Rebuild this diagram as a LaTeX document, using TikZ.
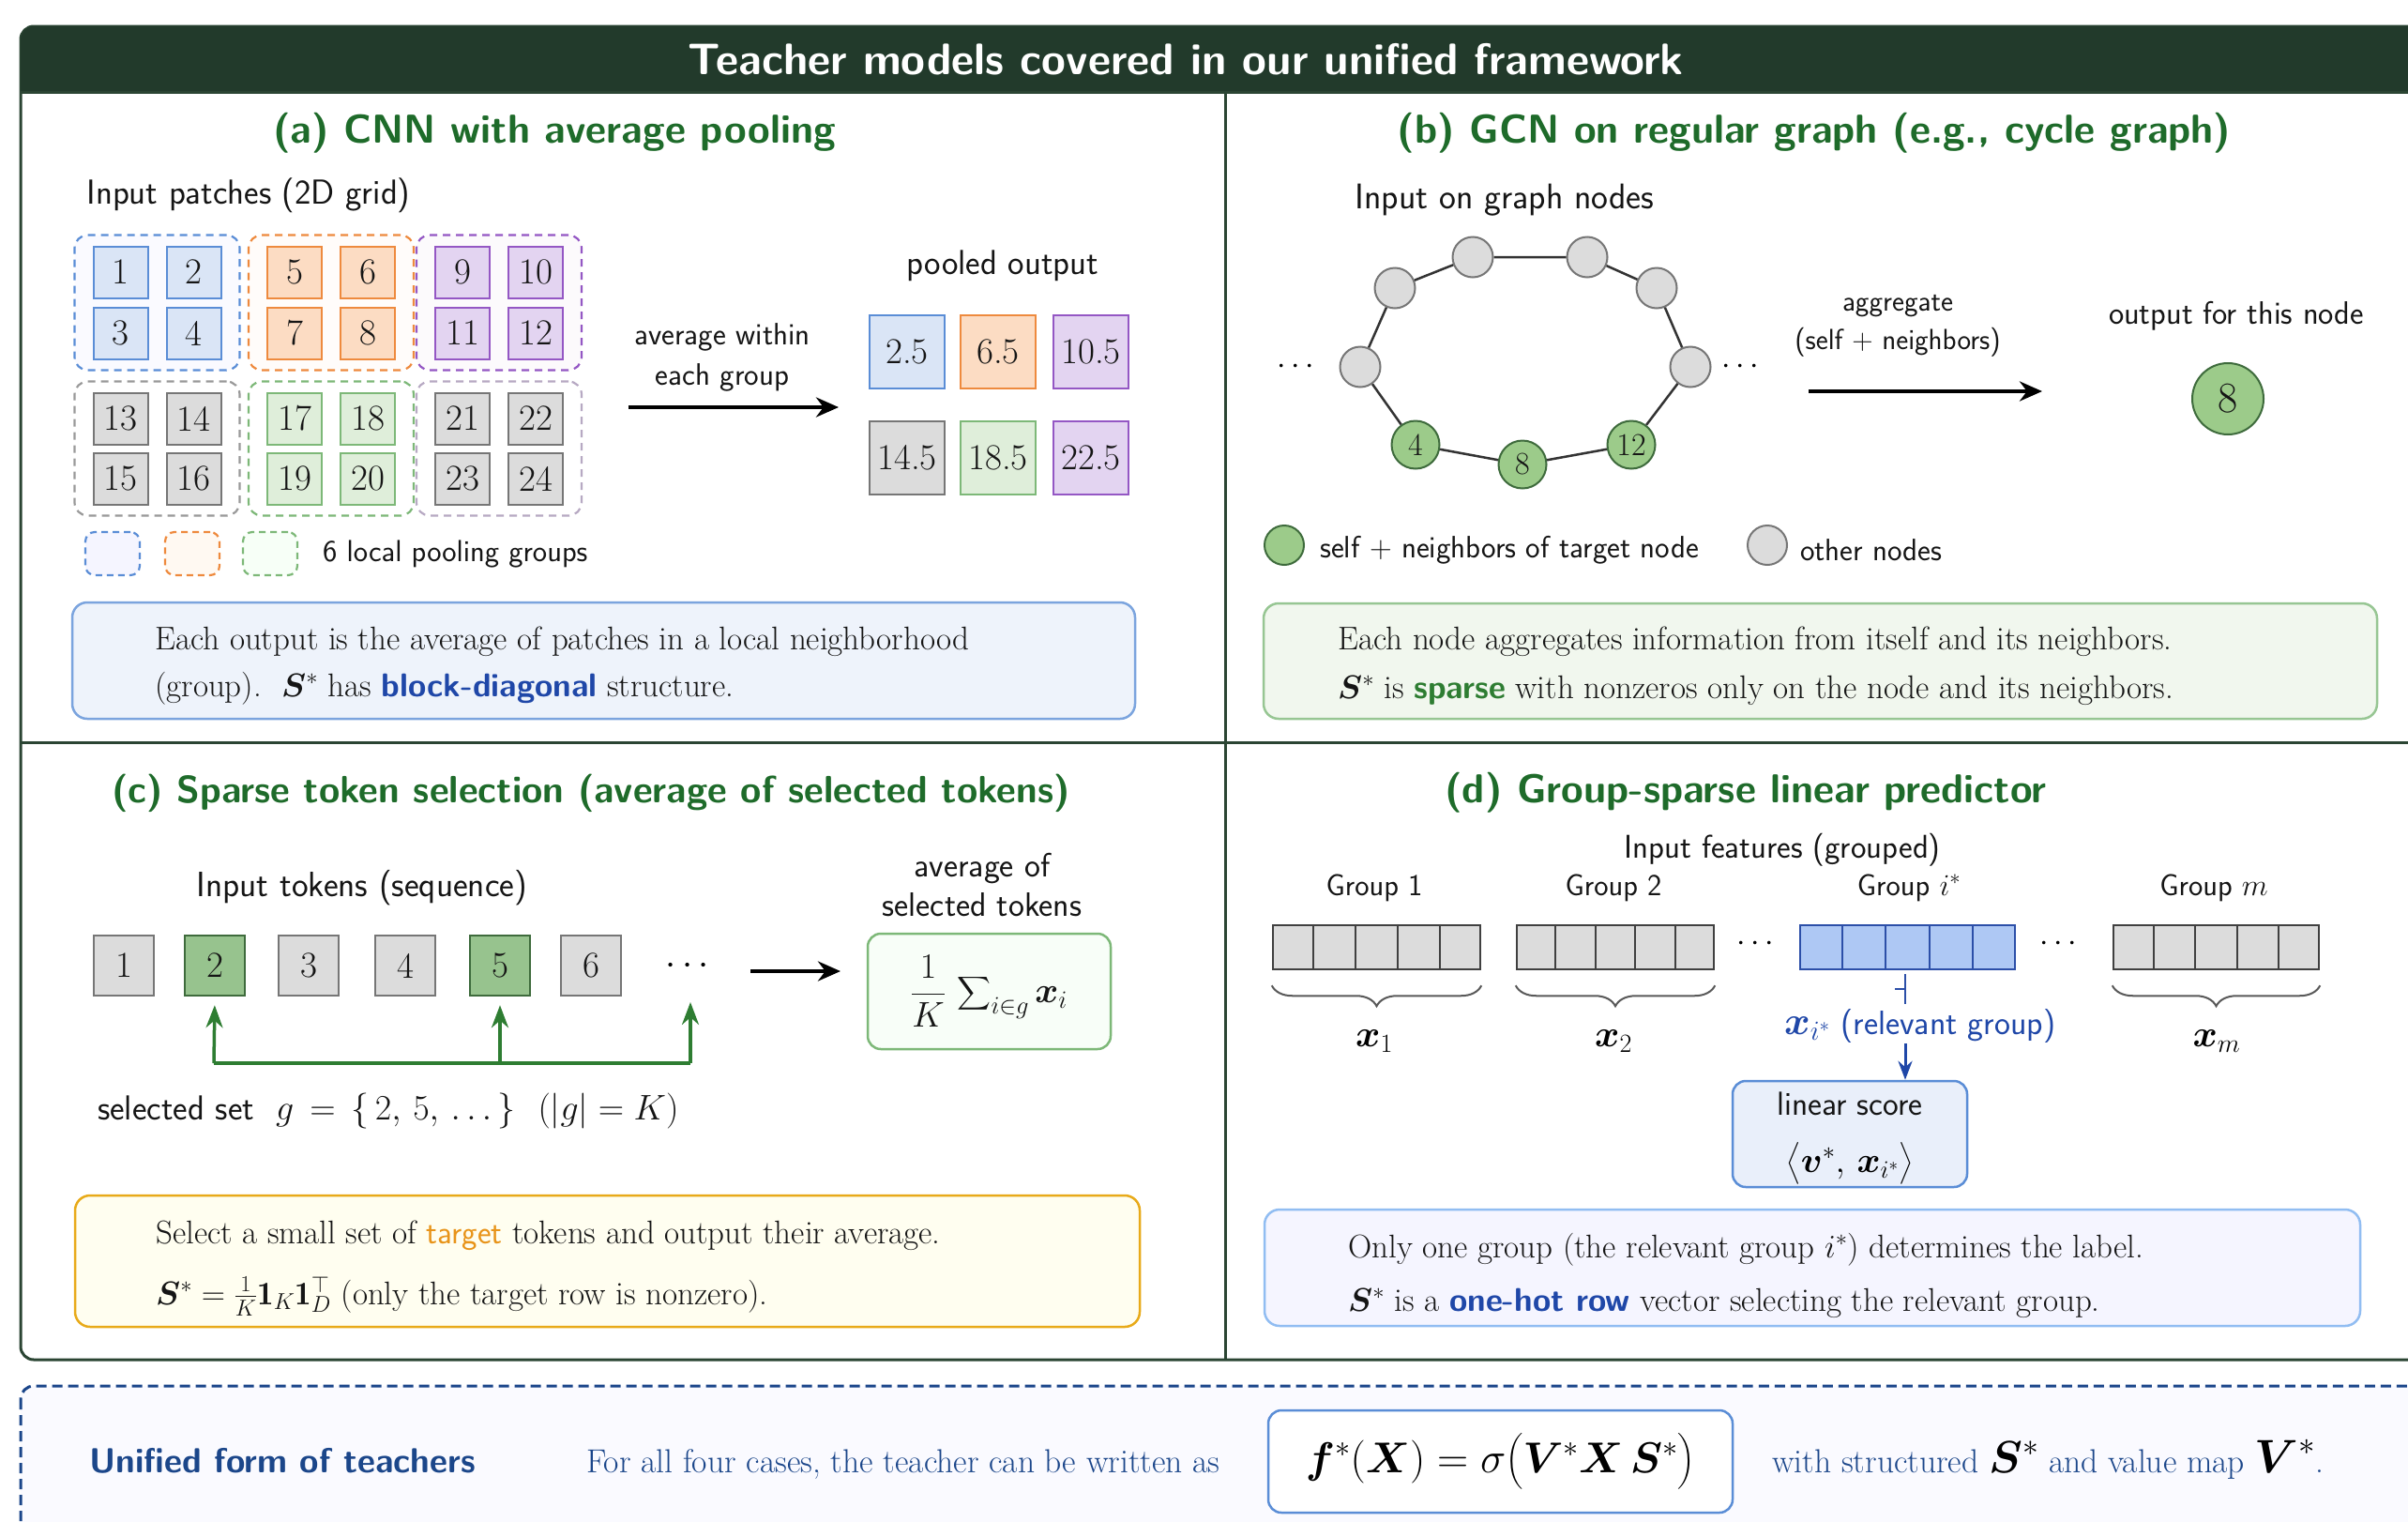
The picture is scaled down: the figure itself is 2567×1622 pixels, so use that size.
\RequirePackage{fix-cm}
\documentclass[tikz,border=0pt]{standalone}
\usepackage{amsmath}
\usepackage{bm}
\usepackage{fontspec}
\usetikzlibrary{arrows.meta,decorations.pathreplacing,calc,fit}

\definecolor{frameg}{HTML}{2B4533}
\definecolor{barg}{HTML}{223A2B}
\definecolor{ptg}{HTML}{1E6B2A}
\definecolor{bluefill}{HTML}{DAE5F6}
\definecolor{blued}{HTML}{5A8DD6}
\definecolor{orfill}{HTML}{FCDCC3}
\definecolor{ord}{HTML}{EE8A3E}
\definecolor{pufill}{HTML}{E3D4F1}
\definecolor{pud}{HTML}{9457C4}
\definecolor{grfill}{HTML}{DCDCDC}
\definecolor{grd}{HTML}{767676}
\definecolor{gnfill}{HTML}{DFEEDA}
\definecolor{gnd}{HTML}{7DB878}
\definecolor{nodegn}{HTML}{9CCB8A}
\definecolor{nodegnd}{HTML}{3E6B3C}
\definecolor{kwblue}{HTML}{1F47A8}
\definecolor{kwgreen}{HTML}{2E7D32}
\definecolor{kworange}{HTML}{E8941A}
\definecolor{navy}{HTML}{1B468A}
\definecolor{arrg}{HTML}{2E7D32}
\definecolor{txt}{HTML}{151515}
\definecolor{selbar}{HTML}{AEC8F4}
\definecolor{selbard}{HTML}{2C4FA8}

\newcommand\myfs[1]{\fontsize{#1}{#1}\selectfont}

\begin{document}
\begin{tikzpicture}[x=1pt,y=-1pt,
  sf/.style={font=\myfs{#1}\sffamily, inner sep=0, text=txt},
  rmt/.style={font=\myfs{#1}\rmfamily, inner sep=0, text=txt},
  ptitle/.style={font=\myfs{43}\sffamily\bfseries, text=ptg, inner sep=0},
  patch/.style={draw, line width=2pt, minimum width=58pt, minimum height=55pt, inner sep=0, font=\myfs{39}, text=txt},
  pb/.style={fill=bluefill, draw=blued},
  po/.style={fill=orfill, draw=ord},
  pp/.style={fill=pufill, draw=pud},
  pg/.style={fill=grfill, draw=grd},
  pn/.style={fill=gnfill, draw=gnd},
  grp/.style={draw, dashed, dash pattern=on 8pt off 6pt, line width=2.2pt, rounded corners=14pt, inner xsep=19pt, inner ysep=11pt},
  legbox/.style={draw, dash pattern=on 7pt off 5pt, line width=2.2pt, rounded corners=10pt, minimum width=58pt, minimum height=46pt, inner sep=0},
  pooled/.style={draw, line width=2pt, minimum width=80pt, minimum height=78pt, inner sep=0, font=\myfs{39}, text=txt},
  notebox/.style={draw, line width=2.5pt, rounded corners=16pt, inner sep=0},
  bigarr/.style={line width=4pt, -{Stealth[length=24pt, width=21pt]}},
  gnode/.style={circle, draw=grd, fill=grfill, line width=2pt, minimum size=43pt, inner sep=0},
  gnn/.style={circle, draw=nodegnd, fill=nodegn, line width=2pt, minimum size=51pt, inner sep=0, font=\myfs{34}, text=txt},
  edge/.style={draw=black!80, line width=2.5pt},
  token/.style={draw, line width=2.5pt, minimum width=64pt, minimum height=64pt, inner sep=0, font=\myfs{39}, text=txt},
  tg/.style={fill=grfill, draw=grd},
  tgn/.style={fill=nodegn!85!green!80!black!70, draw=nodegnd},
  garr/.style={draw=arrg, line width=3.5pt, -{Stealth[length=24pt, width=18pt]}},
  bar/.style={line width=2.5pt, minimum height=47pt, inner sep=0},
  brc/.style={decorate, decoration={brace, mirror, amplitude=22pt}, draw=black!65, line width=2pt},
  barr/.style={draw=kwblue, line width=3pt, -{Stealth[length=20pt, width=15pt]}}
]
\useasboundingbox (0,0) rectangle (2567,1622);
\fill[white] (0,0) rectangle (2567,1622);
\begin{scope}
\clip (0,0) rectangle (2567,1622);
% ---------- main frame
\draw[frameg, line width=3pt, fill=white, rounded corners=14pt] (22,28) rectangle (2600,1449);
\begin{scope}
\clip (0,0) rectangle (2600,98);
\fill[barg, rounded corners=14pt] (22,28) rectangle (2600,1449);
\end{scope}
\draw[frameg, line width=3pt] (22,98) -- (2600,98);
\draw[frameg, line width=3pt] (1306,98) -- (1306,1449);
\draw[frameg, line width=3pt] (22,791) -- (2600,791);
\node[font=\myfs{47}\sffamily\bfseries, text=white, inner sep=0] (title) at (1264,63) {Teacher models covered in our unified framework};

% ---------- bottom dashed box
\draw[navy, line width=3pt, dash pattern=on 11pt off 6pt, fill=blue!2!white, rounded corners=14pt] (22,1477) rectangle (2600,1700);

% ================= (a)
\node[ptitle] (ta) at (591,142) {(a) CNN with average pooling};
\node[sf=37] (inpA) at (265,208) {Input patches (2D grid)};
\foreach \n/\x/\y/\s in {1/128.5/290/pb, 2/206.5/290/pb, 3/128.5/355/pb, 4/206.5/355/pb,
  5/314/290/po, 6/392/290/po, 7/314/355/po, 8/392/355/po,
  9/493/290/pp, 10/571/290/pp, 11/493/355/pp, 12/571/355/pp,
  13/128.5/446/pg, 14/206.5/446/pg, 15/128.5/510/pg, 16/206.5/510/pg,
  17/314/446/pn, 18/392/446/pn, 19/314/510/pn, 20/392/510/pn,
  21/493/446/pg, 22/571/446/pg, 23/493/510/pg, 24/571/510/pg}
  \node[patch,\s] (p\n) at (\x,\y) {\n};
\node[grp, draw=blued, fill=blue!2] (gA) [fit=(p1)(p4)] {};
\node[grp, draw=ord, fill=orange!2] (gB) [fit=(p5)(p8)] {};
\node[grp, draw=pud, fill=violet!2] (gC) [fit=(p9)(p12)] {};
\node[grp, draw=black!40] (gD) [fit=(p13)(p16)] {};
\node[grp, draw=gnd] (gE) [fit=(p17)(p20)] {};
\node[grp, draw=pud!40!gray!60] (gF) [fit=(p21)(p24)] {};
\foreach \n/\x/\y/\s in {1/128.5/290/pb, 2/206.5/290/pb, 3/128.5/355/pb, 4/206.5/355/pb,
  5/314/290/po, 6/392/290/po, 7/314/355/po, 8/392/355/po,
  9/493/290/pp, 10/571/290/pp, 11/493/355/pp, 12/571/355/pp}
  \node[patch,\s] at (\x,\y) {\n};
% legend
\node[legbox, draw=blued, fill=blue!4] (lg1) at (120,590) {};
\node[legbox, draw=ord, fill=orange!5] (lg2) at (205,590) {};
\node[legbox, draw=gnd, fill=green!3] (lg3) at (288,590) {};
\node[sf=32.5, anchor=west] (lgt) at (344,591) {6 local pooling groups};
% arrow
\node[sf=33, align=center] (avg) at (770,381) {average within\\[10pt]each group};
\coordinate (aS) at (670,434);
\coordinate (aE) at (894,434);
\draw[bigarr] (aS) -- (aE);
% pooled
\node[sf=37] (po) at (1069,283) {pooled output};
\node[pooled, pb] (o1) at (967,375) {2.5};
\node[pooled, po] (o2) at (1064,375) {6.5};
\node[pooled, pp] (o3) at (1163,375) {10.5};
\node[pooled, pg] (o4) at (967,488) {14.5};
\node[pooled, pn] (o5) at (1064,488) {18.5};
\node[pooled, pp] (o6) at (1163,488) {22.5};
% note
\node[notebox, draw=blued!80, fill=bluefill!45, minimum width=1133pt, minimum height=124pt] (boxa) at (643.5,704) {};
\node[rmt=35, anchor=base west] (na1) at (165,692) {Each output is the average of patches in a local neighborhood};
\node[rmt=35, anchor=base west] (na2) at (165,742) {(group).\ \ $\bm{S}^*$ has \textcolor{kwblue}{\sffamily\bfseries block-diagonal} structure.};

% ================= (b)
\node[ptitle] (tb) at (1934,142) {(b)\ GCN on regular graph (e.g., cycle graph)};
\node[sf=38] (inpB) at (1604,213) {Input on graph nodes};
\node[gnode] (g1) at (1450,391) {};
\node[gnode] (g2) at (1487,307) {};
\node[gnode] (g3) at (1570,274) {};
\node[gnode] (g4) at (1692,274) {};
\node[gnode] (g5) at (1766,307) {};
\node[gnode] (g6) at (1802,391) {};
\node[gnn] (g12) at (1739,474) {12};
\node[gnn] (g8) at (1623,495) {8};
\node[gnn] (g4n) at (1509,474) {4};
\draw[edge] (g1) -- (g2) -- (g3) -- (g4) -- (g5) -- (g6) -- (g12) -- (g8) -- (g4n) -- (g1);
\node[font=\myfs{34}, inner sep=0] (dl) at (1384,391) {$\cdots$};
\node[font=\myfs{34}, inner sep=0] (dr) at (1858,391) {$\cdots$};
\node[sf=31, align=center] (aggr) at (2023,347) {aggregate\\[10pt](self $+$ neighbors)};
\coordinate (bS) at (1928,417);
\coordinate (bE) at (2177,417);
\draw[bigarr] (bS) -- (bE);
\node[sf=34.5] (ofn) at (2384,337) {output for this node};
\node[gnn, minimum size=76pt, font=\myfs{46}] (out8) at (2375,425) {8};
% legend
\node[gnn, minimum size=42pt] (lgg) at (1369,581) {};
\node[sf=33, anchor=west] (lggt) at (1407,586) {self $+$ neighbors of target node};
\node[gnode, minimum size=42pt] (lgo) at (1884,581) {};
\node[sf=33, anchor=west] (lgot) at (1919,586) {other nodes};
% note
\node[notebox, draw=gnd!80, fill=gnfill!45, minimum width=1187pt, minimum height=123pt] (boxb) at (1940.5,704.5) {};
\node[rmt=35, anchor=base west] (nb1) at (1426,692) {Each node aggregates information from itself and its neighbors.};
\node[rmt=35, anchor=base west] (nb2) at (1426,744) {$\bm{S}^*$ is \textcolor{kwgreen}{\sffamily\bfseries sparse} with nonzeros only on the node and its neighbors.};

% ================= (c)
\node[font=\myfs{40.5}\sffamily\bfseries, text=ptg, inner sep=0] (tc) at (630,845) {(c) Sparse token selection (average of selected tokens)};
\node[sf=37.5] (inpC) at (386,946) {Input tokens (sequence)};
\node[token, tg] (t1) at (132,1029) {1};
\node[token, tgn] (t2) at (229,1029) {2};
\node[token, tg] (t3) at (329,1029) {3};
\node[token, tg] (t4) at (432,1029) {4};
\node[token, tgn] (t5) at (533,1029) {5};
\node[token, tg] (t6) at (630,1029) {6};
\node[font=\myfs{40}\bfseries, inner sep=0] (tdots) at (736,1030) {$\cdots$};
\coordinate (cS) at (800,1035);
\coordinate (cE) at (896,1035);
\draw[bigarr] (cS) -- (cE);
\node[notebox, draw=gnd, fill=gnfill!85!green!10, rounded corners=14pt, minimum width=259pt, minimum height=123pt, font=\myfs{38}, text=txt] (res) at (1054.5,1056.5) {$\displaystyle\frac{1}{K}\,\sum\nolimits_{i\in g}\bm{x}_i$};
\node[sf=36, align=center] (avgsel) at (1047,943) {average of\\[6pt]selected tokens};
\coordinate (selL) at (228,1133);
\coordinate (selM) at (533,1133);
\coordinate (selR) at (736,1133);
\draw[draw=arrg, line width=3.5pt] (selL) -- (selR);
\draw[garr, shorten >=9pt] (selL) -- (t2.south |- t2.south);
\draw[garr, shorten >=9pt] (selM) -- (t5.south);
\draw[garr] (selR) -- (736,1068);
\node[sf=37, anchor=base west] (selset) at (104,1193) {selected set\ \ \myfs{38}$g\,=\,\{\,2,\,5,\,\dots\,\}\ \ (|g|=K)$};
% note
\node[notebox, draw=orange!60!yellow!90!black!90, fill=orange!7!yellow!6, minimum width=1135pt, minimum height=140pt] (boxc) at (647.5,1344) {};
\node[rmt=35, anchor=base west] (nc1) at (166,1325) {Select a small set of \textcolor{kworange}{\sffamily target} tokens and output their average.};
\node[rmt=35, anchor=base west] (nc2) at (166,1390) {$\bm{S}^* = \frac{1}{K}\mathbf{1}_K\mathbf{1}_D^{\top}$ (only the target row is nonzero).};

% ================= (d)
\node[ptitle] (td) at (1861,845) {(d)\ Group-sparse linear predictor};
\node[sf=35] (inpD) at (1900,906) {Input features (grouped)};
\node[sf=32.5] (gl1) at (1465,946) {Group 1};
\node[sf=32.5] (gl2) at (1720,946) {Group 2};
\node[sf=32.5] (gl3) at (2035,946) {Group $i^*$};
\node[sf=32.5] (glm) at (2360,946) {Group $m$};
\node[bar, draw=black!75, fill=grfill, minimum width=221pt] (bar1) at (1467.5,1009.5) {};
\node[bar, draw=black!75, fill=grfill, minimum width=210pt] (bar2) at (1722,1009.5) {};
\node[bar, draw=selbard, fill=selbar, minimum width=229pt] (bar3) at (2033.5,1009.5) {};
\node[bar, draw=black!75, fill=grfill, minimum width=219pt] (barm) at (2362.5,1009.5) {};
\foreach \b in {bar1,bar2,barm}
  \foreach \k in {1,...,4}
    \draw[line width=2pt, draw=black!75] ($(\b.north west)!\k/5!(\b.north east)$) -- ($(\b.south west)!\k/5!(\b.south east)$);
\foreach \k in {1,...,4}
  \draw[line width=2pt, draw=selbard] ($(bar3.north west)!\k/5!(bar3.north east)$) -- ($(bar3.south west)!\k/5!(bar3.south east)$);
\node[font=\myfs{34}, inner sep=0] (dd1) at (1874,1006) {$\cdots$};
\node[font=\myfs{34}, inner sep=0] (dd2) at (2197,1006) {$\cdots$};
\draw[brc] ([yshift=-16pt]bar1.south west) -- ([yshift=-16pt]bar1.south east);
\draw[brc] ([yshift=-16pt]bar2.south west) -- ([yshift=-16pt]bar2.south east);
\draw[brc] ([yshift=-16pt]barm.south west) -- ([yshift=-16pt]barm.south east);
\node[font=\myfs{40}, inner sep=0] (x1) at (1465,1110) {$\bm{x}_1$};
\node[font=\myfs{40}, inner sep=0] (x2) at (1720,1110) {$\bm{x}_2$};
\node[font=\myfs{40}, inner sep=0] (xm) at (2363,1110) {$\bm{x}_m$};
\draw[selbard, line width=2.5pt] (2031,1038) -- (2031,1070);
\draw[selbard, line width=2.5pt] (2020,1054) -- (2031,1054);
\node[font=\myfs{36}\sffamily, text=kwblue, inner sep=0, anchor=base west] (rel) at (1902,1102) {\myfs{42}$\bm{x}_{i^*}$\myfs{36}\ (relevant group)};
\node[notebox, draw=blued, fill=bluefill!60, rounded corners=14pt, minimum width=250pt, minimum height=113pt] (ls) at (1972,1208.5) {};
\node[sf=35.5] (lst) at (1972,1176) {linear score};
\node[font=\myfs{38}, inner sep=0] (lsm) at (1972,1240) {$\bigl\langle \bm{v}^*,\,\bm{x}_{i^*}\bigr\rangle$};
\coordinate (ra) at (2031,1112);
\draw[barr] (ra) -- (ra |- ls.north);
% note
\node[notebox, draw=blue!55!cyan!40!white!95!black, fill=blue!4, minimum width=1168pt, minimum height=124pt] (boxd) at (1932,1351) {};
\node[rmt=35, anchor=base west] (nd1) at (1437,1340) {Only one group (the relevant group $i^*$) determines the label.};
\node[rmt=35, anchor=base west] (nd2) at (1437,1397) {$\bm{S}^*$ is a \textcolor{kwblue}{\sffamily\bfseries one-hot row} vector selecting the relevant group.};

% ================= bottom
\node[font=\myfs{37}\sffamily\bfseries, text=navy, inner sep=0] (uf) at (301,1557) {Unified form of teachers};
\node[font=\myfs{35.5}\rmfamily, text=navy, inner sep=0, anchor=base west] (ufa) at (625,1569) {For all four cases, the teacher can be written as};
\node[notebox, draw=blued, fill=white, rounded corners=14pt, minimum width=495pt, minimum height=109pt, font=\myfs{46}] (fx) at (1599.5,1557.5) {$\bm{f}^*(\bm{X}) = \sigma\bigl(\bm{V}^{*}\bm{X}\,\bm{S}^*\bigr)$};
\node[font=\myfs{35.5}\rmfamily, text=navy, inner sep=0, anchor=base west] (ufb) at (1889,1569) {with structured\ \textcolor{black}{\myfs{48}$\bm{S}^*$}\myfs{35.5} and value map\ \textcolor{black}{\myfs{50}$\bm{V}^*$}\myfs{35.5}.};
\end{scope}
\end{tikzpicture}
\end{document}
